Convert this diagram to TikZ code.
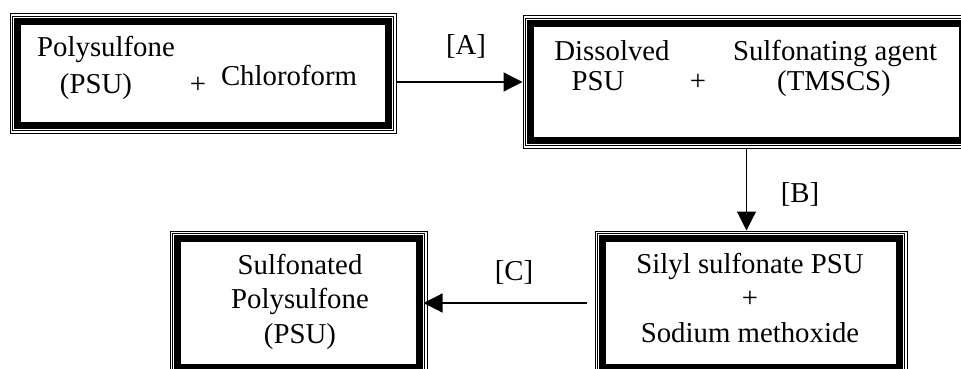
\documentclass[tikz,border=0pt]{standalone}
\usepackage{fontspec}
\setmainfont{Liberation Serif}
\usetikzlibrary{arrows.meta}

\begin{document}
\begin{tikzpicture}[%
      x=1pt, y=-1pt,
      frame/.style={draw, line width=1pt, inner sep=0pt},
      txt/.style={font=\fontsize{28.8}{34.5}\selectfont, inner sep=0pt, anchor=base, align=center},
      flow/.style={line width=1.2pt, -{Triangle[length=19pt,width=19pt]}},
      ]
      \useasboundingbox (0,0) rectangle (961,369);
      \clip (0,0) rectangle (961,369);

      % outer frames
      \node [frame, minimum width=386pt, minimum height=119pt] (psu) at (203,73.5) {};
      \node [frame, minimum width=447pt, minimum height=132pt] (dissolved) at (746.5,82) {};
      \node [frame, minimum width=257pt, minimum height=144pt] (sulfonated) at (298.5,303) {};
      \node [frame, minimum width=312pt, minimum height=144pt] (silyl) at (751,303) {};

      % thin and thick inner lines
      \foreach \n in {psu,dissolved,sulfonated,silyl}{
        \draw [line width=0.8pt] ([shift={(2.8,2.8)}]\n.north west) rectangle ([shift={(-2.8,-2.8)}]\n.south east);
        \draw [line width=6.5pt] ([shift={(8,8)}]\n.north west) rectangle ([shift={(-8,-8)}]\n.south east);
      }

      \node [txt] (polysulfone) at (106,57) {Polysulfone};
      \node [txt] (psuA) at (96,93) {(PSU)};
      \node [txt] (plusA) at (198,93) {+};
      \node [txt] (chloroform) at (289,85) {Chloroform};

      \node [txt] (dissolvedT) at (612,60) {Dissolved};
      \node [txt] (psuB) at (598,91) {PSU};
      \node [txt] (plusB) at (698,91) {+};
      \node [txt] (agent) at (835,60) {Sulfonating agent};
      \node [txt] (tmscs) at (834,91) {(TMSCS)};

      % base of a multi-line node is its last line
      \node [txt] (sulfonatedT) at (300,343) {Sulfonated\\Polysulfone\\(PSU)};
      \node [txt] (silylT) at (750,342) {Silyl sulfonate PSU\\+\\Sodium methoxide};

      \node [txt] (labA) at (466,55) {[A]};
      \node [txt] (labB) at (800,202) {[B]};
      \node [txt] (labC) at (514,280) {[C]};

      \draw [flow] (psu.east |- dissolved.west) -- (dissolved.west);
      \draw [flow] (dissolved.south) -- (dissolved.south |- silyl.north);
      \draw [flow] ([xshift=-8pt]silyl.west) -- ([xshift=-4pt]sulfonated.east);
      \end{tikzpicture}
\end{document}
